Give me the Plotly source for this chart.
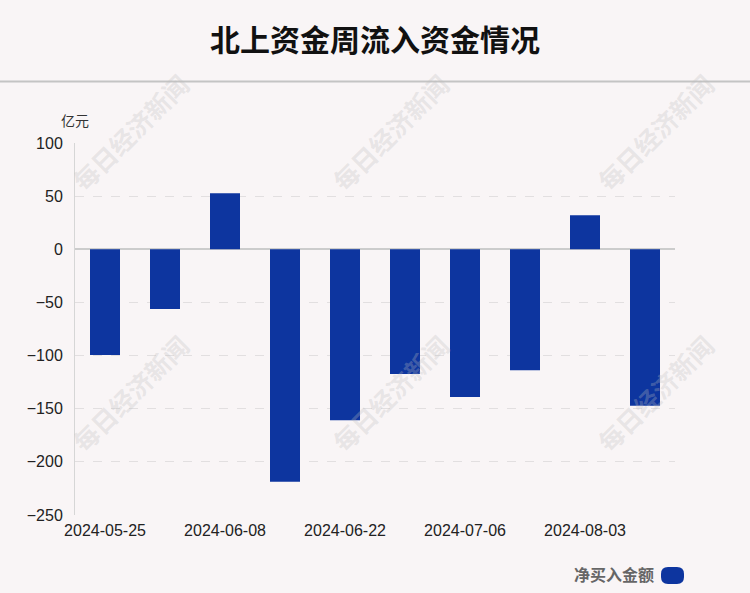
import plotly.graph_objects as go

categories = ["2024-05-25", "2024-06-01", "2024-06-08", "2024-06-15", "2024-06-22",
              "2024-06-29", "2024-07-06", "2024-07-20", "2024-08-03", "2024-08-10"]
net_buy = [-99.4, -56.2, 52.8, -218.8, -160.9, -117.3, -138.9, -113.9, 32.1, -147.1]
x_tick_labels = ["2024-05-25", "2024-06-08", "2024-06-22", "2024-07-06", "2024-08-03"]
y_ticks = [100, 50, 0, -50, -100, -150, -200, -250]

BAR = "#0d359f"
BG = "#f9f5f6"

fig = go.Figure()
fig.add_trace(go.Bar(x=categories, y=net_buy, marker=dict(color=BAR, line=dict(width=0)),
                     width=0.5, name="净买入金额", showlegend=False, hoverinfo="skip"))

W, H = 750, 593
L, R, T, B = 75, 75, 143, 78
pw, ph = W - L - R, H - T - B

def px(x):
    return (x - L) / pw

def py(y):
    return (H - B - y) / ph

annotations = []
# watermarks
for wx in (130, 390, 655):
    for wy in (132, 393):
        annotations.append(dict(x=px(wx), y=py(wy), xref="paper", yref="paper", text="<b>每日经济新闻</b>",
                                showarrow=False, textangle=-45,
                                font=dict(family="Noto Sans CJK SC", size=25, color="rgba(190,190,190,0.3)"),
                                xanchor="center", yanchor="middle"))
# unit label
annotations.append(dict(x=px(75), y=py(120), xref="paper", yref="paper", text="亿元", showarrow=False,
                        font=dict(family="Noto Sans CJK SC", size=14, color="#333"),
                        xanchor="center", yanchor="middle"))
# title
annotations.append(dict(x=0.5, y=py(38), xref="paper", yref="paper", text="<b>北上资金周流入资金情况</b>",
                        showarrow=False, font=dict(family="Noto Sans CJK SC", size=30, color="#111"),
                        xanchor="center", yanchor="middle"))
# legend text
annotations.append(dict(x=px(656), y=py(574), xref="paper", yref="paper", text="<b>净买入金额</b>",
                        showarrow=False, font=dict(family="Noto Sans CJK SC", size=16, color="#666"),
                        xanchor="right", yanchor="middle"))

# rounded legend symbol
x0, x1, y0, y1 = 661, 684, 567, 584
r = 7
path = (f"M {px(x0 + r)},{py(y0)} L {px(x1 - r)},{py(y0)} Q {px(x1)},{py(y0)} {px(x1)},{py(y0 + r)} "
        f"L {px(x1)},{py(y1 - r)} Q {px(x1)},{py(y1)} {px(x1 - r)},{py(y1)} "
        f"L {px(x0 + r)},{py(y1)} Q {px(x0)},{py(y1)} {px(x0)},{py(y1 - r)} "
        f"L {px(x0)},{py(y0 + r)} Q {px(x0)},{py(y0)} {px(x0 + r)},{py(y0)} Z")

shapes = [
    dict(type="line", xref="paper", yref="paper", x0=px(0), x1=px(750), y0=py(81.5), y1=py(81.5),
         line=dict(color="#c4c4c4", width=2)),
    dict(type="path", xref="paper", yref="paper", path=path, fillcolor=BAR, line=dict(width=0)),
]

fig.update_layout(
    width=W, height=H,
    margin=dict(l=L, r=R, t=T, b=B, pad=0),
    paper_bgcolor=BG, plot_bgcolor=BG,
    font=dict(family="Liberation Sans, Arial", size=16, color="#222"),
    annotations=annotations, shapes=shapes,
    bargap=0.5, showlegend=False,
    xaxis=dict(type="category", categoryorder="array", categoryarray=categories,
               range=[-0.5, len(categories) - 0.5],
               tickmode="array", tickvals=categories[::2], ticktext=x_tick_labels,
               showgrid=False, zeroline=False, showline=False, ticks="",
               tickfont=dict(size=16, color="#222"), ticklabelstandoff=4),
    yaxis=dict(range=[-250, 100], tickmode="array", tickvals=y_ticks,
               showgrid=True, gridcolor="#e2dfe0", griddash="dash", gridwidth=1,
               zeroline=True, zerolinecolor="#cccccc", zerolinewidth=2,
               showline=True, linecolor="#d6d6d6", linewidth=1, ticks="",
               tickfont=dict(size=16, color="#222"), ticklabelstandoff=8),
)

fig.write_html("out.html", config={"displayModeBar": False},
               post_script="document.body.style.margin='0';document.body.style.padding='0';"
                           "document.body.style.background='#f9f5f6';document.body.style.overflow='hidden';")
